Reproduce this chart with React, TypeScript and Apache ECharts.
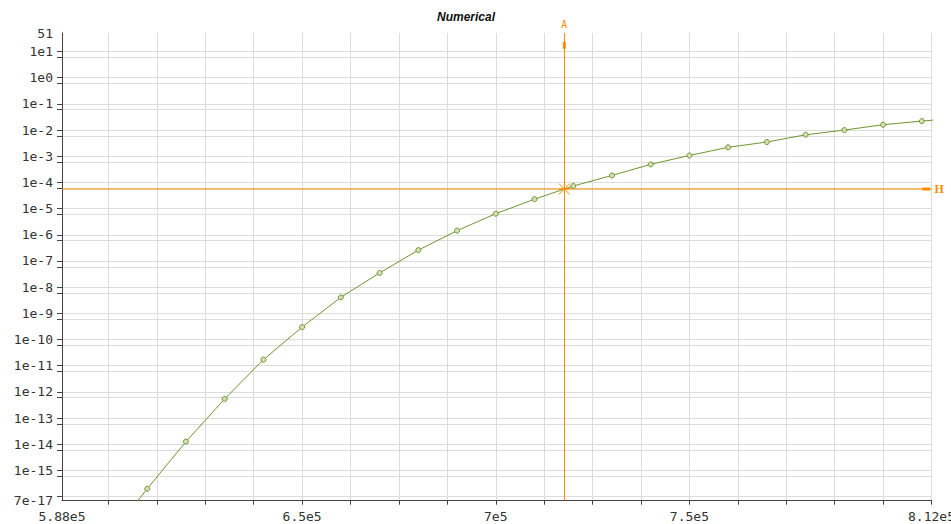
import React, { useEffect, useRef } from "react";
import * as echarts from "echarts";

// ---- data ----
const xValues = [
  600000, 610000, 620000, 630000, 640000, 650000, 660000, 670000, 680000, 690000, 700000,
  710000, 720000, 730000, 740000, 750000, 760000, 770000, 780000, 790000, 800000, 810000, 820000,
];
const yValues = [
  2.5e-18, 2.0e-16, 1.26e-14, 5.4e-13, 1.7e-11, 3.0e-10, 4.1e-9, 3.5e-8, 2.6e-7, 1.44e-6, 6.4e-6,
  2.3e-5, 7.3e-5, 1.85e-4, 4.9e-4, 1.07e-3, 2.2e-3, 3.5e-3, 6.6e-3, 1.0e-2, 1.6e-2, 2.2e-2, 3.0e-2,
];

const xMin = 588000;
const xMax = 812500;
const xGridTicks = [
  600000, 612500, 625000, 637500, 650000, 662500, 675000, 687500, 700000, 712500, 725000,
  737500, 750000, 762500, 775000, 787500, 800000, 812500,
];
const xLabelValues = [588000, 650000, 700000, 750000, 812500];
const xLabelTexts = ["5.88e5", "6.5e5", "7e5", "7.5e5", "8.12e5"];

const yMin = 7e-17;
const yMax = 51;
const yDecadeTicks = [
  1e-16, 1e-15, 1e-14, 1e-13, 1e-12, 1e-11, 1e-10, 1e-9, 1e-8, 1e-7, 1e-6, 1e-5, 1e-4, 1e-3,
  1e-2, 1e-1, 1e0, 1e1,
];
const yMinorTicks = [
  6e-16, 6e-15, 6e-14, 6e-13, 6e-12, 6e-11, 6e-10, 6e-9, 6e-8, 6e-7, 6e-6, 6e-5, 6e-4, 6e-3,
  6e-2, 6e-1, 6e0,
];
const yLabelValues = [
  7e-17, 1e-15, 1e-14, 1e-13, 1e-12, 1e-11, 1e-10, 1e-9, 1e-8, 1e-7, 1e-6, 1e-5, 1e-4, 1e-3,
  1e-2, 1e-1, 1e0, 1e1, 51,
];
const yLabelTexts = [
  "7e-17", "1e-15", "1e-14", "1e-13", "1e-12", "1e-11", "1e-10", "1e-9", "1e-8", "1e-7",
  "1e-6", "1e-5", "1e-4", "1e-3", "1e-2", "1e-1", "1e0", "1e1", "51",
];

const markerA = 717700; // vertical marker "A"
const markerH = 5.6e-5; // horizontal marker "H"
const handleA = 17.5; // y value of the small handle on A
const handleH = 811150; // x value of the small handle on H

const ORANGE = "#ff8c00";
const GREEN = "#6f9430";
const MONO = "DejaVu Sans Mono";

function pickLabel(v: number, vals: number[], texts: string[], logScale: boolean) {
  for (let i = 0; i < vals.length; i++) {
    const a = logScale ? Math.log10(v) : v;
    const b = logScale ? Math.log10(vals[i]) : vals[i];
    if (Math.abs(a - b) < (logScale ? 1e-6 : 1)) return texts[i];
  }
  return "";
}

export default function App() {
  const ref = useRef<HTMLDivElement>(null);

  useEffect(() => {
    document.body.style.margin = "0";
    const chart = echarts.init(ref.current!, null, { renderer: "svg" });
    const lineData = xValues.map((x, i) => [x, yValues[i]]);

    const option: any = {
      animation: false,
      backgroundColor: "#ffffff",
      title: {
        text: "Numerical",
        left: 437,
        top: 11,
        padding: 0,
        textStyle: {
          fontSize: 12,
          fontWeight: "bold",
          fontStyle: "italic",
          fontFamily: "Liberation Sans",
          color: "#111",
        },
      },
      grid: {
        left: 62,
        right: 19.5,
        top: 33,
        bottom: 23.3,
        containLabel: false,
        outerBoundsMode: "none",
      },
      xAxis: {
        type: "value",
        min: xMin,
        max: xMax,
        axisLine: { show: true, onZero: false, lineStyle: { color: "#444", width: 1 } },
        axisTick: {
          show: true,
          customValues: xGridTicks,
          length: 4,
          lineStyle: { color: "#444" },
        },
        axisLabel: {
          show: true,
          customValues: xLabelValues,
          margin: 9,
          color: "#333",
          fontFamily: MONO,
          fontSize: 13,
          formatter: (v: number) => pickLabel(v, xLabelValues, xLabelTexts, false),
        },
        splitLine: { show: true, lineStyle: { color: "#dcdcdc", width: 1 } },
      },
      yAxis: {
        type: "log",
        logBase: 10,
        min: yMin,
        max: yMax,
        axisLine: { show: true, lineStyle: { color: "#444", width: 1 } },
        axisTick: {
          show: true,
          customValues: [...yDecadeTicks, ...yMinorTicks],
          length: 5,
          lineStyle: { color: "#444" },
        },
        axisLabel: {
          show: true,
          customValues: yLabelValues,
          margin: 9,
          color: "#333",
          fontFamily: MONO,
          fontSize: 13,
          formatter: (v: number) => pickLabel(v, yLabelValues, yLabelTexts, true),
        },
        splitLine: { show: true, lineStyle: { color: "#dcdcdc", width: 1 } },
      },
      series: [
        {
          type: "line",
          data: lineData,
          clip: true,
          symbol: "circle",
          symbolSize: 5,
          showSymbol: true,
          z: 3,
          lineStyle: { color: GREEN, width: 1 },
          itemStyle: { color: "#d2e0b4", borderColor: GREEN, borderWidth: 1 },
          emphasis: { disabled: true },
          markLine: {
            silent: true,
            symbol: ["none", "none"],
            lineStyle: { color: ORANGE, width: 1, type: "solid" },
            emphasis: { disabled: true },
            data: [
              [
                { coord: [markerA, yMin] },
                {
                  coord: [markerA, yMax],
                  label: {
                    show: true,
                    position: "end",
                    formatter: "A",
                    color: ORANGE,
                    fontFamily: MONO,
                    fontSize: 10,
                    distance: 4,
                  },
                },
              ],
            ],
          },
          markPoint: {
            silent: true,
            label: { show: false },
            emphasis: { disabled: true },
            data: [
              {
                coord: [markerA, markerH],
                symbol: "path://M0,0L10,10M10,0L0,10M5,0L5,10M0,5L10,5",
                symbolSize: 11,
                itemStyle: { color: "none", borderColor: ORANGE, borderWidth: 1 },
              },
              {
                coord: [markerA, handleA],
                symbol: "rect",
                symbolSize: [3, 7],
                itemStyle: { color: ORANGE, borderWidth: 0 },
              },
              {
                coord: [handleH, markerH],
                symbol: "rect",
                symbolSize: [8, 3],
                itemStyle: { color: ORANGE, borderWidth: 0 },
              },
            ],
          },
        },
        {
          type: "line",
          name: "H",
          data: [
            [xMin, markerH],
            [xMax, markerH],
          ],
          z: 4,
          silent: true,
          symbol: "none",
          showSymbol: false,
          clip: false,
          lineStyle: { color: ORANGE, width: 1, type: "solid", opacity: 1 },
          itemStyle: { color: ORANGE },
          emphasis: { disabled: true },
          endLabel: {
            show: true,
            formatter: "H",
            color: ORANGE,
            fontFamily: "Liberation Serif",
            fontWeight: "bold",
            fontSize: 12,
            distance: 3,
          },
        },
      ],
    };

    chart.setOption(option);
    return () => chart.dispose();
  }, []);

  return <div ref={ref} style={{ width: 951, height: 524 }} />;
}
